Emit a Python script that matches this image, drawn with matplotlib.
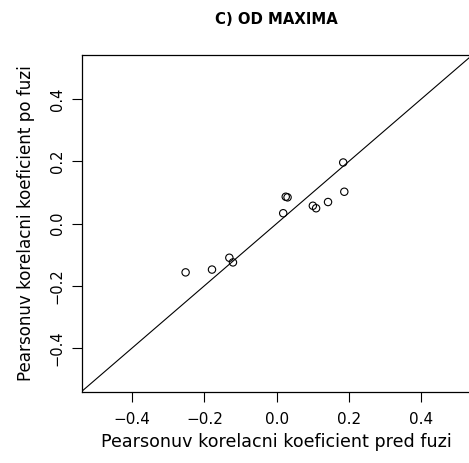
import matplotlib
matplotlib.use("Agg")
import matplotlib.pyplot as plt

# Pearson correlation coefficients before (x) and after (y) fusion
pred_fuzi = [-0.252, -0.179, -0.131, -0.121, 0.018, 0.025, 0.030,
             0.100, 0.109, 0.142, 0.187, 0.184]
po_fuzi = [-0.157, -0.148, -0.110, -0.125, 0.033, 0.086, 0.084,
           0.057, 0.049, 0.069, 0.102, 0.196]

ticks = [-0.4, -0.2, 0.0, 0.2, 0.4]
tick_labels = ["\u22120.4", "\u22120.2", "0.0", "0.2", "0.4"]
lims = (-0.54, 0.54)

title = "C) OD MAXIMA"
xlabel = "Pearsonuv korelacni koeficient pred fuzi"
ylabel = "Pearsonuv korelacni koeficient po fuzi"

plt.rcParams["font.family"] = ["DejaVu Sans"]

W, H = 469, 463
fig = plt.figure(figsize=(W / 100, H / 100), dpi=100)
ax = fig.add_axes([81.5 / W, 1 - 391.6 / H, (471.9 - 81.5) / W, (391.6 - 55.4) / H])

ax.scatter(pred_fuzi, po_fuzi, s=28, facecolors="none", edgecolors="black",
           linewidths=0.8, zorder=3)
ax.plot(lims, lims, color="black", linewidth=0.8)

ax.set_xlim(lims)
ax.set_ylim(lims)
ax.set_xticks(ticks)
ax.set_xticklabels(tick_labels)
ax.set_yticks(ticks)
ax.set_yticklabels(tick_labels, rotation=90, va="center")

ax.tick_params(axis="both", direction="out", length=7, width=0.8,
               color="black")
ax.tick_params(axis="x", pad=8, labelsize=11)
ax.tick_params(axis="y", pad=5, labelsize=10.5)
for sp in ax.spines.values():
    sp.set_linewidth(0.9)

ax.set_xlabel(xlabel, fontsize=12.6, labelpad=4)
ax.set_ylabel(ylabel, fontsize=12.1, labelpad=11)
fig.text((81.5 + 471.9) / 2 / W, 1 - 20 / H, title, ha="center", va="center",
         fontsize=10.7, fontweight="bold")

fig.savefig("out.png", dpi=100)
